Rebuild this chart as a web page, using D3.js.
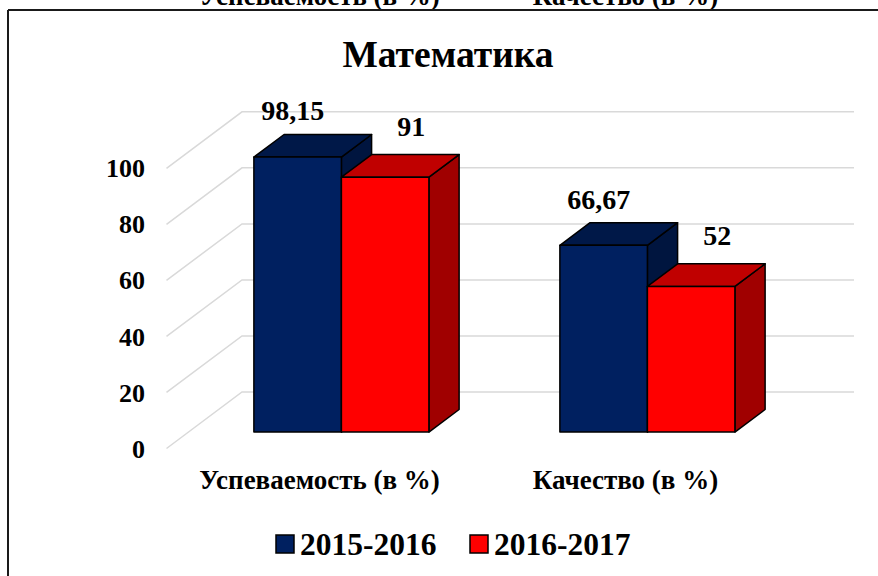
<!DOCTYPE html>
<html>
<head>
<meta charset="utf-8">
<script src="https://cdn.jsdelivr.net/npm/d3@7"></script>
<style>
  html, body { margin: 0; padding: 0; background: #fff; }
  svg { display: block; font-family: "Liberation Serif", "Times New Roman", serif; font-weight: bold; }
</style>
</head>
<body>
<svg id="chart" width="878" height="576"></svg>
<script>
// ---- data ----
const title = "Математика";
const categories = ["Успеваемость (в %)", "Качество (в %)"];
const seriesNames = ["2015-2016", "2016-2017"];
const values2015 = [98.15, 66.67];
const values2016 = [91, 52];
const valueLabels2015 = ["98,15", "66,67"];
const valueLabels2016 = ["91", "52"];
const yTicks = [0, 20, 40, 60, 80, 100];

// ---- styling ----
const frontColors = ["#002060", "#ff0000"];
const topColors = ["#001848", "#c00000"];
const sideColors = ["#00153f", "#a00000"];

const svg = d3.select("#chart");
const W = 878, H = 576;
svg.append("rect").attr("width", W).attr("height", H).attr("fill", "#fff");

// 3D geometry
const DX = 75.5, DY = -56.5;       // full depth offset
const Z0 = 0.29, Z1 = 0.69;        // bar depth span

const x0 = d3.scaleBand().domain(categories).range([166.5, 778.5])
  .paddingInner(0.428).paddingOuter(0.214);
const x1 = d3.scaleBand().domain(seriesNames).range([0, x0.bandwidth()]);
const y = d3.scaleLinear().domain([0, 100]).range([448.5, 168.3]);

const proj = (x, v, z) => [x + z * DX, y(v) + z * DY];

// top cut-off text (copy of category labels above border)
svg.append("g").selectAll("text").data(categories).join("text")
  .attr("x", d => x0(d) + x0.bandwidth() / 2)
  .attr("y", 5)
  .attr("text-anchor", "middle")
  .attr("font-size", 27)
  .attr("fill", "#000")
  .text(d => d);

// border
svg.append("line").attr("x1", 8).attr("x2", W).attr("y1", 10).attr("y2", 10)
  .attr("stroke", "#1a1a1a").attr("stroke-width", 2);
svg.append("line").attr("x1", 8).attr("x2", 8).attr("y1", 10).attr("y2", H)
  .attr("stroke", "#1a1a1a").attr("stroke-width", 2);

// title
svg.append("text").attr("x", 448).attr("y", 67).attr("text-anchor", "middle")
  .attr("font-size", 37.5).attr("fill", "#000").text(title);

// gridlines
const [rx0, rx1] = x0.range();
svg.append("g").selectAll("polyline").data(yTicks).join("polyline")
  .attr("points", t => [proj(rx0, t, 0), proj(rx0, t, 1), proj(rx1, t, 1)].map(p => p.join(",")).join(" "))
  .attr("fill", "none").attr("stroke", "#d9d9d9").attr("stroke-width", 1.5);

// y tick labels
svg.append("g").selectAll("text").data(yTicks).join("text")
  .attr("x", 145).attr("y", t => y(t)).attr("dy", "0.35em")
  .attr("text-anchor", "end").attr("font-size", 26).attr("fill", "#000")
  .text(t => t);

// bars
const seriesValues = [values2015, values2016];
const seriesLabels = [valueLabels2015, valueLabels2016];
const poly = pts => pts.map(p => p.join(",")).join(" ");
const barsG = svg.append("g");
categories.forEach((cat, ci) => {
  seriesNames.forEach((s, si) => {
    const v = seriesValues[si][ci];
    const xl = x0(cat) + x1(s), xr = xl + x1.bandwidth();
    const g = barsG.append("g");
    g.append("polygon").attr("points", poly([proj(xr, 0, Z0), proj(xr, 0, Z1), proj(xr, v, Z1), proj(xr, v, Z0)]))
      .attr("fill", sideColors[si]).attr("stroke", "#000").attr("stroke-width", 1.5).attr("stroke-linejoin", "round");
    g.append("polygon").attr("points", poly([proj(xl, v, Z0), proj(xr, v, Z0), proj(xr, v, Z1), proj(xl, v, Z1)]))
      .attr("fill", topColors[si]).attr("stroke", "#000").attr("stroke-width", 1.5).attr("stroke-linejoin", "round");
    g.append("polygon").attr("points", poly([proj(xl, 0, Z0), proj(xr, 0, Z0), proj(xr, v, Z0), proj(xl, v, Z0)]))
      .attr("fill", frontColors[si]).attr("stroke", "#000").attr("stroke-width", 1.5).attr("stroke-linejoin", "round");
  });
});

// value labels
const labelShift = [-5, 26];
const labelLift = [14, 19];
categories.forEach((cat, ci) => {
  seriesNames.forEach((s, si) => {
    const v = seriesValues[si][ci];
    const xc = x0(cat) + x1(s) + x1.bandwidth() / 2;
    const front = proj(xc, v, Z0);
    const backTop = proj(xc, v, Z1)[1];
    svg.append("text").attr("x", front[0] + labelShift[si]).attr("y", backTop - labelLift[si])
      .attr("text-anchor", "middle").attr("font-size", 28).attr("fill", "#000")
      .text(seriesLabels[si][ci]);
  });
});

// category labels
svg.append("g").selectAll("text").data(categories).join("text")
  .attr("x", d => x0(d) + x0.bandwidth() / 2)
  .attr("y", 489)
  .attr("text-anchor", "middle")
  .attr("font-size", 27)
  .attr("fill", "#000")
  .text(d => d);

// legend
const legendX = [276, 470];
const lg = svg.append("g").selectAll("g").data(seriesNames).join("g")
  .attr("transform", (d, i) => `translate(${legendX[i]},535)`);
lg.append("rect").attr("width", 18).attr("height", 18)
  .attr("fill", (d, i) => frontColors[i]).attr("stroke", "#000").attr("stroke-width", 1.5);
lg.append("text").attr("x", 24).attr("y", 20).attr("font-size", 31.5).attr("fill", "#000").text(d => d);
</script>
</body>
</html>
